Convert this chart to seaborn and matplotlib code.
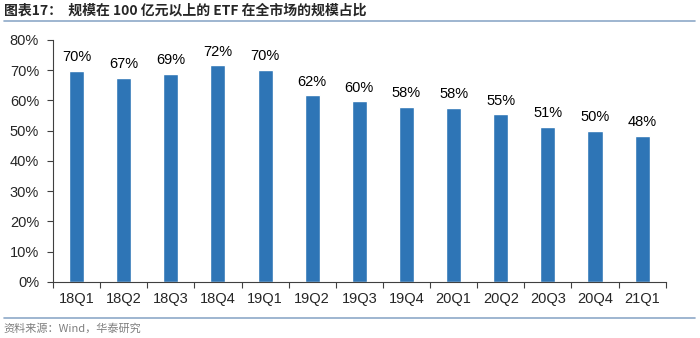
import matplotlib
matplotlib.use("Agg")
import matplotlib.pyplot as plt
import seaborn as sns
import pandas as pd
from matplotlib.lines import Line2D
from matplotlib.ticker import FuncFormatter, FixedLocator

categories = ["18Q1", "18Q2", "18Q3", "18Q4", "19Q1", "19Q2", "19Q3", "19Q4",
              "20Q1", "20Q2", "20Q3", "20Q4", "21Q1"]
values = [69.7, 67.4, 68.8, 71.6, 70.1, 61.7, 59.7, 57.8, 57.5, 55.4, 51.2, 49.9, 48.3]
labels = ["70%", "67%", "69%", "72%", "70%", "62%", "60%", "58%", "58%", "55%", "51%", "50%", "48%"]
yticks = [0, 10, 20, 30, 40, 50, 60, 70, 80]

sns.set_style("ticks")
plt.rcParams['font.family'] = ['Liberation Sans', 'Noto Sans CJK SC', 'DejaVu Sans']

df = pd.DataFrame({"cat": categories, "val": values})

fig = plt.figure(figsize=(7, 3.38), dpi=100)
ax = fig.add_axes([0.0757, 0.1657, 0.951 - 0.0757, 0.8817 - 0.1657])
sns.barplot(data=df, x="cat", y="val", color="#2E75B6", saturation=1, width=0.32, ax=ax)

for i, (v, lab) in enumerate(zip(values, labels)):
    ax.text(i, v + 2.2, lab, ha="center", va="bottom", fontsize=10.5, color="#000000")

ax.set_xlim(-0.5, len(categories) - 0.5)
ax.set_ylim(0, 80)
ax.set_yticks(yticks)
ax.yaxis.set_major_formatter(FuncFormatter(lambda v, p: f"{int(v)}%"))
ax.set_xlabel("")
ax.set_ylabel("")
ax.xaxis.set_minor_locator(FixedLocator([i - 0.5 for i in range(len(categories) + 1)]))
ax.tick_params(axis="x", which="major", length=0, pad=7, labelsize=10.5)
ax.tick_params(axis="x", which="minor", length=4, color="#404040", width=0.8, direction="out")
ax.tick_params(axis="y", length=4, color="#404040", width=0.8, labelsize=10.5, pad=6, direction="out")
for s in ["top", "right"]:
    ax.spines[s].set_visible(False)
for s in ["left", "bottom"]:
    ax.spines[s].set_color("#404040")
    ax.spines[s].set_linewidth(0.8)

fig.text(0.005, 0.968, "图表17：  规模在 100 亿元以上的 ETF 在全市场的规模占比",
         fontsize=10, fontweight="bold", ha="left", va="center",
         family=['Noto Sans CJK SC', 'DejaVu Sans'])
fig.add_artist(Line2D([0.005, 0.993], [0.937, 0.937], color="#8EA9C8", linewidth=1.2,
                      transform=fig.transFigure))
fig.add_artist(Line2D([0.005, 0.993], [0.059, 0.059], color="#8EA9C8", linewidth=1.2,
                      transform=fig.transFigure))
fig.text(0.005, 0.027, "资料来源：Wind，华泰研究", fontsize=8, color="#7F7F7F",
         ha="left", va="center", family=['Noto Sans CJK SC', 'DejaVu Sans'])

fig.savefig("out.png", dpi=100)
